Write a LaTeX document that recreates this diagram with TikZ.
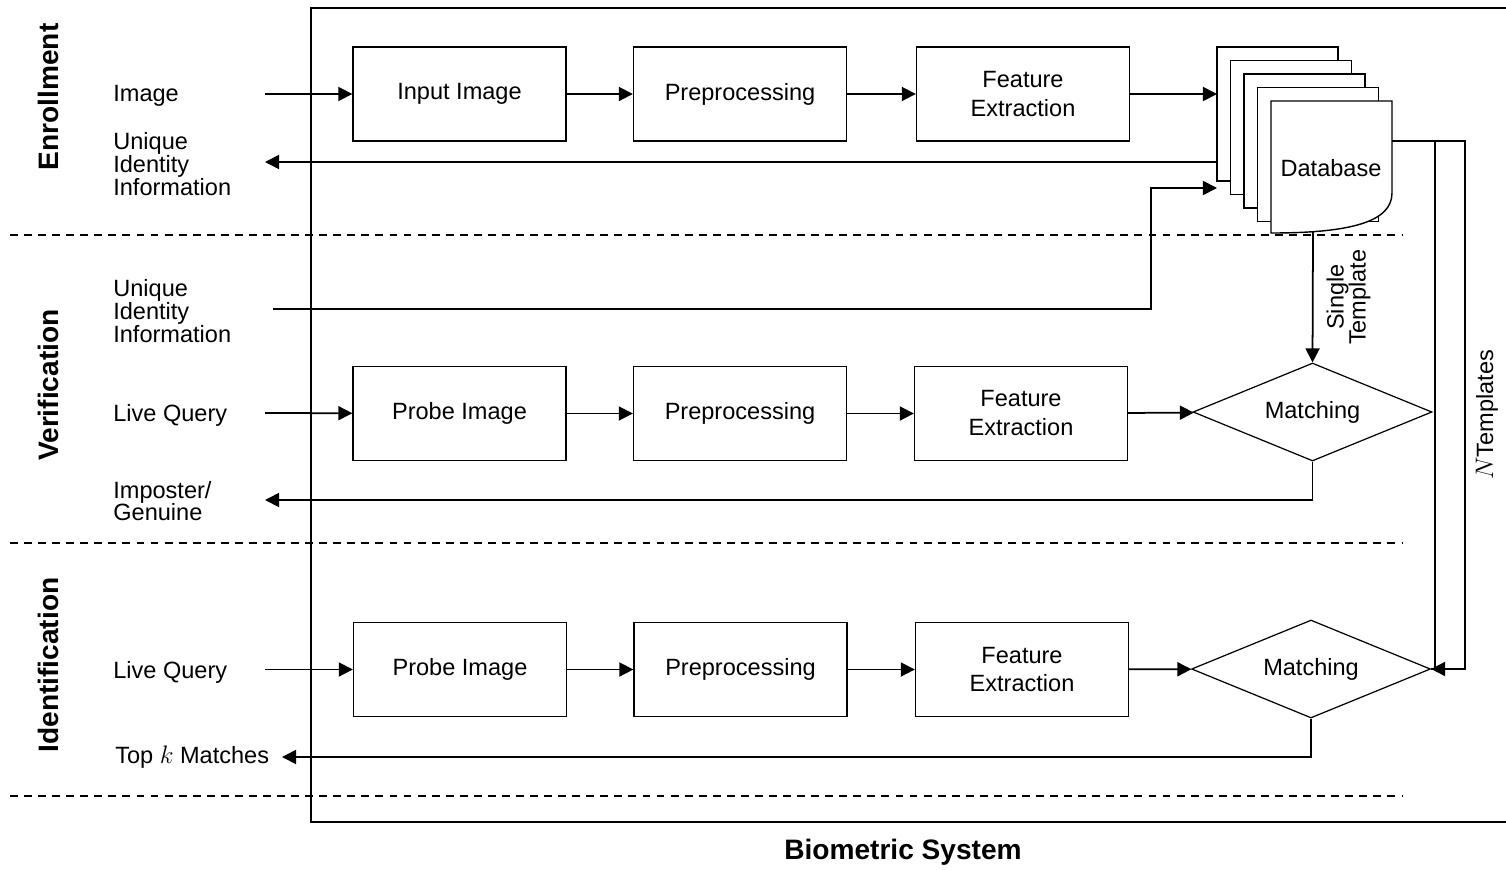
\documentclass[tikz,border=0pt]{standalone}
\usepackage{fontspec}
\setmainfont{Liberation Sans}
\usetikzlibrary{shapes.geometric,arrows.meta}

\begin{document}
\begin{tikzpicture}[x=0.02cm,y=-0.02cm,
  font=\fontsize{13.4}{16.5}\selectfont,
  blk/.style={draw,line width=0.8pt,minimum width=4.26cm,minimum height=1.88cm,inner sep=0,align=center},
  match/.style={draw,diamond,aspect=2.44,line width=0.7pt,minimum width=4.78cm,minimum height=1.96cm,inner sep=0},
  arr/.style={line width=1pt,-{Triangle[length=8pt,width=8pt]}},
  lbl/.style={anchor=west,inner sep=0,align=left,font=\fontsize{13.4}{13}\selectfont},
  sect/.style={rotate=90,inner sep=0,font=\fontsize{16}{19}\selectfont\bfseries},
  sep/.style={line width=0.8pt,dash pattern=on 4.5pt off 3.5pt}]
          \useasboundingbox (0,0) rectangle (1506,869);
          \draw[line width=1.3pt] (1506,8) -- (311,8) -- (311,822) -- (1506,822);
          \node[font=\fontsize{16}{19}\selectfont\bfseries] (sys) at (903,852) {Biometric System};
          \draw[sep] (10,235) -- (1403,235);
          \draw[sep] (10,543) -- (1403,543);
          \draw[sep] (10,796) -- (1403,796);
          \node[sect] (enr) at (48,97) {Enrollment};
          \node[sect] (ver) at (48,385) {Verification};
          \node[sect] (idf) at (48,665) {Identification};
          \node[lbl] (limg) at (113,96) {Image};
          \node[lbl] (luid) at (113,164) {Unique\\Identity\\Information};
          \node[lbl] (lvid) at (113,311) {Unique\\Identity\\Information};
          \node[lbl] (lvq) at (113,415) {Live Query};
          \node[lbl] (lvout) at (113,501) {Imposter/\\Genuine};
          \node[lbl] (liq) at (113,672) {Live Query};
          \node[lbl] (liout) at (115,757) {Top $k$ Matches};
          \node[blk] (ein) at (459.5,94) {Input Image};
          \node[blk] (epre) at (740,94) {Preprocessing};
          \node[blk] (efeat) at (1023,94) {Feature\\Extraction};
          \node[blk] (vin) at (459.5,413.5) {Probe Image};
          \node[blk] (vpre) at (740,413.5) {Preprocessing};
          \node[blk] (vfeat) at (1021,413.5) {Feature\\Extraction};
          \node[match] (vmatch) at (1312.5,412) {Matching};
          \node[blk] (iin) at (460,669.5) {Probe Image};
          \node[blk] (ipre) at (740.5,669.5) {Preprocessing};
          \node[blk] (ifeat) at (1022,669.5) {Feature\\Extraction};
          \node[match] (imatch) at (1311,669) {Matching};
          \foreach \i in {0,...,3}
            \draw[fill=white,line width=0.8pt] ({1217+13.5*\i},{47+13.5*\i}) rectangle ++(121,134);
          \draw[fill=white,line width=0.8pt] (1271,101) -- (1392,101) -- (1392,193) .. controls (1392,222) and (1350,233) .. (1271,233) -- cycle;
          \node (db) at (1331,168) {Database};
          \coordinate (dbin) at (1217,94);
          \coordinate (dbret) at (1217,162);
          \coordinate (dbid) at (1217,188);
          \coordinate (dbout) at (1392,141);
          \coordinate (dbsingle) at (1313,232);
          \coordinate (split) at (1435,141);
          \coordinate (eimg) at (265,94);
          \coordinate (euid) at (265,162);
          \coordinate (vid) at (273,309);
          \coordinate (vq) at (265,413);
          \coordinate (vout) at (265,500);
          \coordinate (iq) at (265,669.5);
          \coordinate (iout) at (282,757);
          \draw[arr] (eimg) -- (ein);
          \draw[arr] (ein) -- (epre);
          \draw[arr] (epre) -- (efeat);
          \draw[arr] (efeat.east) -- (dbin);
          \draw[arr] (dbret) -- (euid);
          \draw[arr] (vid) -| (1151,188) -- (dbid);
          \draw[arr] (dbsingle) -- node[right=4pt,rotate=90,anchor=north,align=center,font=\fontsize{13.4}{12.5}\selectfont]{Single\\Template} (vmatch.north);
          \draw[arr] (vq) -- (vin);
          \draw[arr] (vin) -- (vpre);
          \draw[arr] (vpre) -- (vfeat);
          \draw[arr] (vfeat) -- (vmatch);
          \draw[arr] (vmatch.south) |- (vout);
          \draw[line width=1pt] (dbout) -- (split) -- (split |- imatch.east) -- (imatch.east);
          \draw[arr] (split) -- ++(30,0) |- (imatch.east);
          \node[rotate=90,inner sep=0] (ntpl) at (1487,415) {$N$Templates};
          \draw[arr] (iq) -- (iin);
          \draw[arr] (iin) -- (ipre);
          \draw[arr] (ipre) -- (ifeat);
          \draw[arr] (ifeat) -- (imatch);
          \draw[arr] (imatch.south) |- (iout);
        \end{tikzpicture}
\end{document}
